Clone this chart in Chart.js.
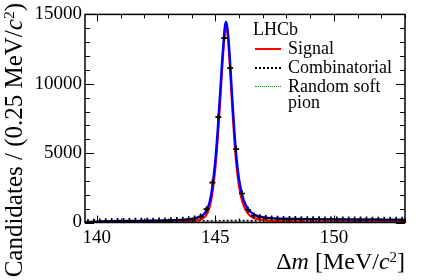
<!DOCTYPE html>
<html><head><meta charset="utf-8">
<script src="https://cdn.jsdelivr.net/npm/chart.js@4"></script>
<style>
html,body{margin:0;padding:0;background:#fff;}
#wrap{position:relative;width:427px;height:280px;overflow:hidden;font-family:'Liberation Serif','Times New Roman',serif;color:#000;}
canvas{position:absolute;left:0;top:0;}
.t{position:absolute;white-space:nowrap;}
sup{font-size:0.62em;vertical-align:0.5em;line-height:0;}
.lg{font-size:18px;line-height:18px;}
.ln{position:absolute;width:26px;height:0;}
</style></head><body>
<div id="wrap">
<canvas id="c" width="427" height="280"></canvas>
<div class="t" style="left:0.5px;top:280px;width:277px;text-align:right;font-size:25px;line-height:26px;transform-origin:0 0;transform:rotate(-90deg);">Candidates / (0.25 MeV/<i>c</i><sup>2</sup>)</div>
<div class="t" style="right:22px;top:249px;font-size:24px;line-height:24px;">Δ<i>m</i> [MeV/<i>c</i><sup>2</sup>]</div>
<div class="t lg" style="left:253px;top:20px;">LHCb</div>
<div class="ln" style="left:255px;top:48px;border-top:2px solid #ff0000;"></div>
<div class="t lg" style="left:288px;top:39px;">Signal</div>
<div class="ln" style="left:255px;top:67px;border-top:2px dotted #000;"></div>
<div class="t lg" style="left:288px;top:58px;">Combinatorial</div>
<div class="ln" style="left:255px;top:86px;border-top:1.5px dotted #1a8a1a;"></div>
<div class="t lg" style="left:288px;top:77px;">Random soft</div>
<div class="t lg" style="left:288px;top:93px;">pion</div>
</div>
<script>
// ---- data ----
const xTicks = [140, 145, 150];
const xMinorTicks = [140,141,142,143,144,145,146,147,148,149,150,151,152,153];
const yTicks = [0, 5000, 10000, 15000];
const yMinorTicks = [0,1000,2000,3000,4000,5000,6000,7000,8000,9000,10000,11000,12000,13000,14000,15000];

const binCenters = [139.625,139.875,140.125,140.375,140.625,140.875,141.125,141.375,141.625,141.875,
  142.125,142.375,142.625,142.875,143.125,143.375,143.625,143.875,144.125,144.375,
  144.625,144.875,145.125,145.375,145.625,145.875,146.125,146.375,146.625,146.875,
  147.125,147.375,147.625,147.875,148.125,148.375,148.625,148.875,149.125,149.375,
  149.625,149.875,150.125,150.375,150.625,150.875,151.125,151.375,151.625,151.875,
  152.125,152.375,152.625,152.875];
const dataCounts = [30,60,80,90,100,105,110,115,120,125,
  130,135,140,150,160,175,195,230,290,430,
  960,2880,7590,13290,11130,5290,2090,920,500,380,
  320,290,270,260,250,245,240,235,230,230,
  225,225,220,220,215,215,210,210,205,205,
  200,200,200,195];

const totalX = [139.57,139.6,139.7,140.0,140.5,141.0,141.5,142.0,142.5,143.0,143.5,143.8,144.0,144.2,144.4,144.5,144.6,144.7,144.8,144.9,
  145.0,145.1,145.2,145.3,145.35,145.4,145.45,145.5,145.55,145.6,145.7,145.8,145.9,146.0,146.1,146.2,146.3,146.4,146.5,146.6,
  146.8,147.0,147.25,147.5,148.0,148.5,149.0,150.0,151.0,152.0,153.0];
const totalY = [0,15,35,65,90,105,115,125,135,150,180,215,260,330,460,570,780,1150,1800,2950,
  4500,6700,9300,12000,13100,14100,14450,14100,13300,12100,9300,6600,4500,3100,2200,1600,1200,920,740,610,
  460,380,330,300,265,250,240,225,215,205,200];

const signalX = [139.57,140.0,141.0,142.0,143.0,143.5,144.0,144.2,144.4,144.5,144.6,144.7,144.8,144.9,
  145.0,145.1,145.2,145.3,145.35,145.4,145.45,145.5,145.55,145.6,145.7,145.8,145.9,146.0,146.1,146.2,146.3,146.4,146.5,146.6,
  146.8,147.0,147.25,147.5,148.0,148.5,149.0,150.0,151.0,152.0,153.0];
const signalY = [0,0,0,5,10,25,80,140,240,330,500,820,1400,2450,
  3950,6100,8700,11500,12700,13800,14250,13800,12900,11600,8700,6000,3950,2600,1750,1200,850,600,450,350,
  240,180,140,110,80,65,55,45,35,28,20];

const combX = [139.57,139.7,140.0,140.5,141.0,142.0,143.0,144.0,145.0,146.0,148.0,150.0,153.0];
const combY = [0,30,55,75,90,105,115,125,130,135,140,145,150];

const randX = [139.57,140.0,141.0,143.0,145.0,148.0,153.0];
const randY = [0,10,20,25,30,30,30];

const zip = (xs, ys) => xs.map((x, i) => ({x: x, y: ys[i]}));
const FONT = "'Liberation Serif','Times New Roman',serif";

const framePlugin = {
  id: 'frame',
  afterDatasetsDraw(chart) {
    const {ctx, chartArea: a, scales: {x, y}} = chart;
    ctx.save();
    ctx.strokeStyle = '#000';
    ctx.lineWidth = 1;
    ctx.beginPath();
    xMinorTicks.forEach(v => {
      const px = Math.round(x.getPixelForValue(v)) + 0.5;
      const L = xTicks.includes(v) ? 7 : 4;
      ctx.moveTo(px, a.bottom); ctx.lineTo(px, a.bottom - L);
      ctx.moveTo(px, a.top); ctx.lineTo(px, a.top + L);
    });
    yMinorTicks.forEach(v => {
      const py = Math.round(y.getPixelForValue(v)) + 0.5;
      const L = yTicks.includes(v) ? 9 : 5;
      ctx.moveTo(a.left, py); ctx.lineTo(a.left + L, py);
      ctx.moveTo(a.right, py); ctx.lineTo(a.right - L, py);
    });
    ctx.stroke();
    ctx.lineWidth = 1.5;
    ctx.strokeRect(a.left, a.top, a.right - a.left, a.bottom - a.top);
    ctx.restore();
  }
};

new Chart(document.getElementById('c').getContext('2d'), {
  type: 'line',
  data: {
    datasets: [
      {label: 'Data', data: zip(binCenters, dataCounts), showLine: false, pointStyle: 'cross',
       pointRadius: 3, pointBorderWidth: 1.7, borderColor: '#000', backgroundColor: '#000', order: 0},
      {label: 'Total', data: zip(totalX, totalY), borderColor: '#0000ff', borderWidth: 2.4,
       pointRadius: 0, cubicInterpolationMode: 'monotone', order: 1},
      {label: 'Signal', data: zip(signalX, signalY), borderColor: '#ff0000', borderWidth: 2.2,
       pointRadius: 0, cubicInterpolationMode: 'monotone', order: 2},
      {label: 'Combinatorial', data: zip(combX, combY), borderColor: '#000', borderWidth: 1.6,
       borderDash: [2, 2], pointRadius: 0, cubicInterpolationMode: 'monotone', order: 3},
      {label: 'Random soft pion', data: zip(randX, randY), borderColor: '#1a8a1a', borderWidth: 1.5,
       borderDash: [1, 1], pointRadius: 0, cubicInterpolationMode: 'monotone', order: 4}
    ]
  },
  options: {
    animation: false, responsive: false, devicePixelRatio: 1, events: [],
    layout: {padding: {left: 0, right: 22, top: 14, bottom: 0}},
    plugins: {legend: {display: false}, tooltip: {enabled: false}},
    scales: {
      x: {
        type: 'linear', min: 139.5, max: 153,
        grid: {display: false, drawTicks: false}, border: {display: false},
        ticks: {font: {family: FONT, size: 19}, color: '#000', padding: 4, maxRotation: 0,
                callback: v => String(v)},
        afterBuildTicks: s => { s.ticks = xTicks.map(v => ({value: v})); },
        afterFit: s => { s.height = 57.5; }
      },
      y: {
        type: 'linear', min: 0, max: 15000,
        grid: {display: false, drawTicks: false}, border: {display: false},
        ticks: {font: {family: FONT, size: 19}, color: '#000', padding: 3,
                callback: v => String(v)},
        afterBuildTicks: s => { s.ticks = yTicks.map(v => ({value: v})); },
        afterFit: s => { s.width = 85; }
      }
    }
  },
  plugins: [framePlugin]
});
</script>
</body></html>
